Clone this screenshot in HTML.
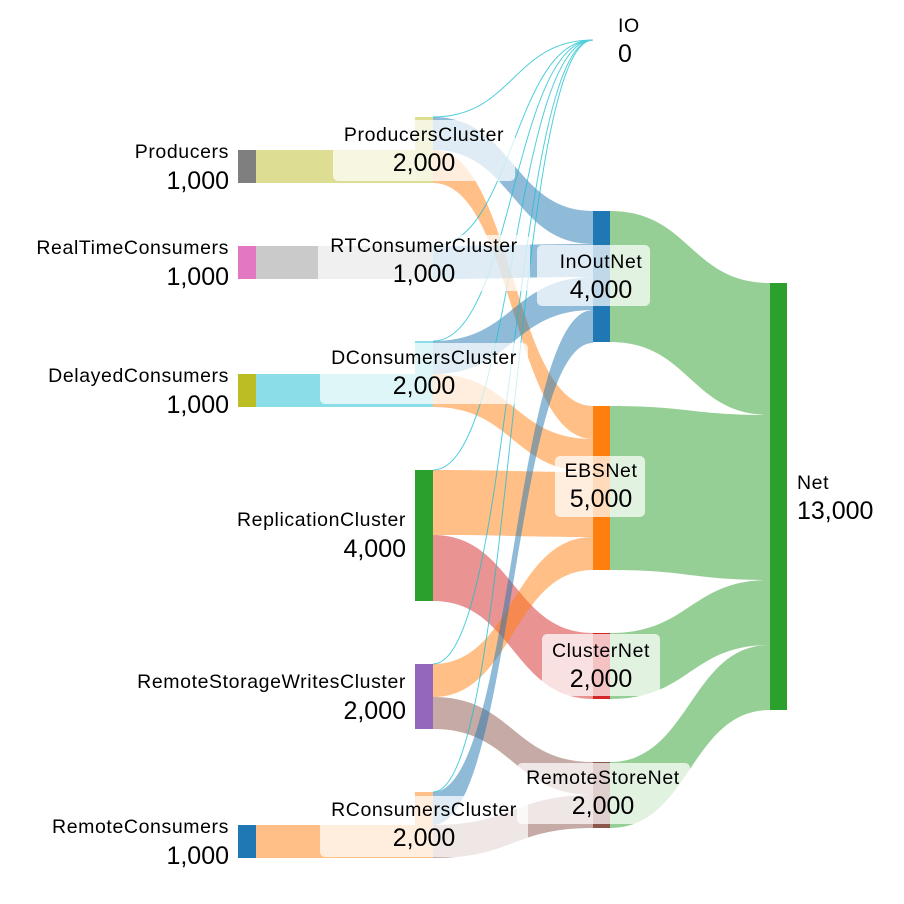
<!DOCTYPE html>
<html><head><meta charset="utf-8"><style>
html,body{margin:0;padding:0;background:#fff;}
svg{display:block;font-family:"Liberation Sans",Arial,sans-serif;}
.n{font-size:19.5px;letter-spacing:0.6px;fill:#000}
.v{font-size:25px;fill:#000}
.bx{fill:#fff;fill-opacity:0.72}
</style></head><body>
<svg width="904" height="904" viewBox="0 0 904 904" xmlns="http://www.w3.org/2000/svg">
<g id="links"></g>
<g fill="none" stroke="#17becf" stroke-width="1" opacity="0.75">
<path d="M433 117 C513 117,513 40,593 40"/>
<path d="M433 246 C513 246,513 40,593 40"/>
<path d="M433 341 C513 341,513 40,593 40"/>
<path d="M433 470 C513 470,513 40,593 40"/>
<path d="M433 664 C513 664,513 40,593 40"/>
<path d="M433 792 C513 792,513 40,593 40"/>
</g>
<rect x="238" y="150" width="18" height="33" fill="#7f7f7f"/>
<rect x="238" y="246" width="18" height="33" fill="#e377c2"/>
<rect x="238" y="374" width="18" height="33" fill="#bcbd22"/>
<rect x="238" y="825" width="18" height="33" fill="#1f77b4"/>
<rect x="415" y="117" width="18" height="66" fill="#bcbd22" opacity="0.5"/>
<rect x="415" y="246" width="18" height="33" fill="#c7c7c7"/>
<rect x="415" y="341" width="18" height="66" fill="#17becf" opacity="0.5"/>
<rect x="415" y="470" width="18" height="131" fill="#2ca02c"/>
<rect x="415" y="664" width="18" height="65" fill="#9467bd"/>
<rect x="415" y="792" width="18" height="66" fill="#ff7f0e" opacity="0.5"/>
<rect x="593" y="211" width="17" height="131" fill="#1f77b4"/>
<rect x="593" y="406" width="17" height="164" fill="#ff7f0e"/>
<rect x="593" y="633" width="17" height="66" fill="#d62728"/>
<rect x="593" y="762" width="17" height="66" fill="#8c564b"/>
<rect x="770" y="283" width="17" height="427" fill="#2ca02c"/>
<g text-anchor="end">
<text class="n" x="229" y="158">Producers</text><text class="v" x="229" y="189">1,000</text>
<text class="n" x="229" y="254">RealTimeConsumers</text><text class="v" x="229" y="285">1,000</text>
<text class="n" x="229" y="382">DelayedConsumers</text><text class="v" x="229" y="413">1,000</text>
<text class="n" x="229" y="833">RemoteConsumers</text><text class="v" x="229" y="864">1,000</text>
<text class="n" x="406" y="526">ReplicationCluster</text><text class="v" x="406" y="557">4,000</text>
<text class="n" x="406" y="688">RemoteStorageWritesCluster</text><text class="v" x="406" y="719">2,000</text>
</g>
<rect class="bx" x="333" y="120" width="182" height="61" rx="5"/>
<rect class="bx" x="318" y="235" width="212" height="56" rx="5"/>
<rect class="bx" x="320" y="343" width="208" height="61" rx="5"/>
<rect class="bx" x="320" y="796" width="208" height="61" rx="5"/>
<rect class="bx" x="537" y="245" width="113" height="61" rx="5"/>
<rect class="bx" x="555" y="456" width="90" height="61" rx="5"/>
<rect class="bx" x="542" y="634" width="118" height="62" rx="5"/>
<rect class="bx" x="517" y="763" width="173" height="61" rx="5"/>
<g text-anchor="middle">
<text class="n" x="424" y="141">ProducersCluster</text><text class="v" x="424" y="171">2,000</text>
<text class="n" x="424" y="252">RTConsumerCluster</text><text class="v" x="424" y="282">1,000</text>
<text class="n" x="424" y="364">DConsumersCluster</text><text class="v" x="424" y="394">2,000</text>
<text class="n" x="424" y="816">RConsumersCluster</text><text class="v" x="424" y="846">2,000</text>
<text class="n" x="601" y="268">InOutNet</text><text class="v" x="601" y="298">4,000</text>
<text class="n" x="601" y="477">EBSNet</text><text class="v" x="601" y="507">5,000</text>
<text class="n" x="601" y="657">ClusterNet</text><text class="v" x="601" y="687">2,000</text>
<text class="n" x="603" y="784">RemoteStoreNet</text><text class="v" x="603" y="814">2,000</text>
</g>
<text class="n" x="618" y="32">IO</text><text class="v" x="618" y="62">0</text>
<text class="n" x="797" y="489">Net</text><text class="v" x="797" y="519">13,000</text>
</svg>
<script>
(function(){
var L=[
[256,415,150,183,150,183,"rgba(219,219,141,0.95)"],
[256,415,246,279,246,279,"rgba(199,199,199,0.95)"],
[256,415,374,407,374,407,"rgba(23,190,207,0.5)"],
[256,415,825,858,825,858,"rgba(255,127,14,0.5)"],
[433,593,117,150,211,244,"rgba(31,119,180,0.5)"],
[433,593,150,183,406,439,"rgba(255,127,14,0.5)"],
[433,593,246,279,244,277,"rgba(31,119,180,0.5)"],
[433,593,341,374,277,310,"rgba(31,119,180,0.5)"],
[433,593,374,407,439,472,"rgba(255,127,14,0.5)"],
[433,593,470,535,472,537,"rgba(255,127,14,0.5)"],
[433,593,535,601,633,699,"rgba(214,39,40,0.5)"],
[433,593,664,697,537,570,"rgba(255,127,14,0.5)"],
[433,593,697,729,762,795,"rgba(140,86,75,0.5)"],
[433,593,792,825,310,343,"rgba(31,119,180,0.5)"],
[433,593,825,858,795,828,"rgba(140,86,75,0.5)"],
[610,770,211,342,283,415,"rgba(44,160,44,0.5)"],
[610,770,406,570,415,580,"rgba(44,160,44,0.5)"],
[610,770,633,699,580,645,"rgba(44,160,44,0.5)"],
[610,770,762,828,645,710,"rgba(44,160,44,0.5)"]
];
var g=document.getElementById('links'),s='';
L.forEach(function(l){var x0=l[0],x1=l[1],m=(x0+x1)/2;
s+='<path fill="'+l[6]+'" d="M'+x0+' '+l[2]+' C'+m+' '+l[2]+','+m+' '+l[4]+','+x1+' '+l[4]+' L'+x1+' '+l[5]+' C'+m+' '+l[5]+','+m+' '+l[3]+','+x0+' '+l[3]+' Z"/>';});
g.innerHTML=s;
})();
</script>
</body></html>
